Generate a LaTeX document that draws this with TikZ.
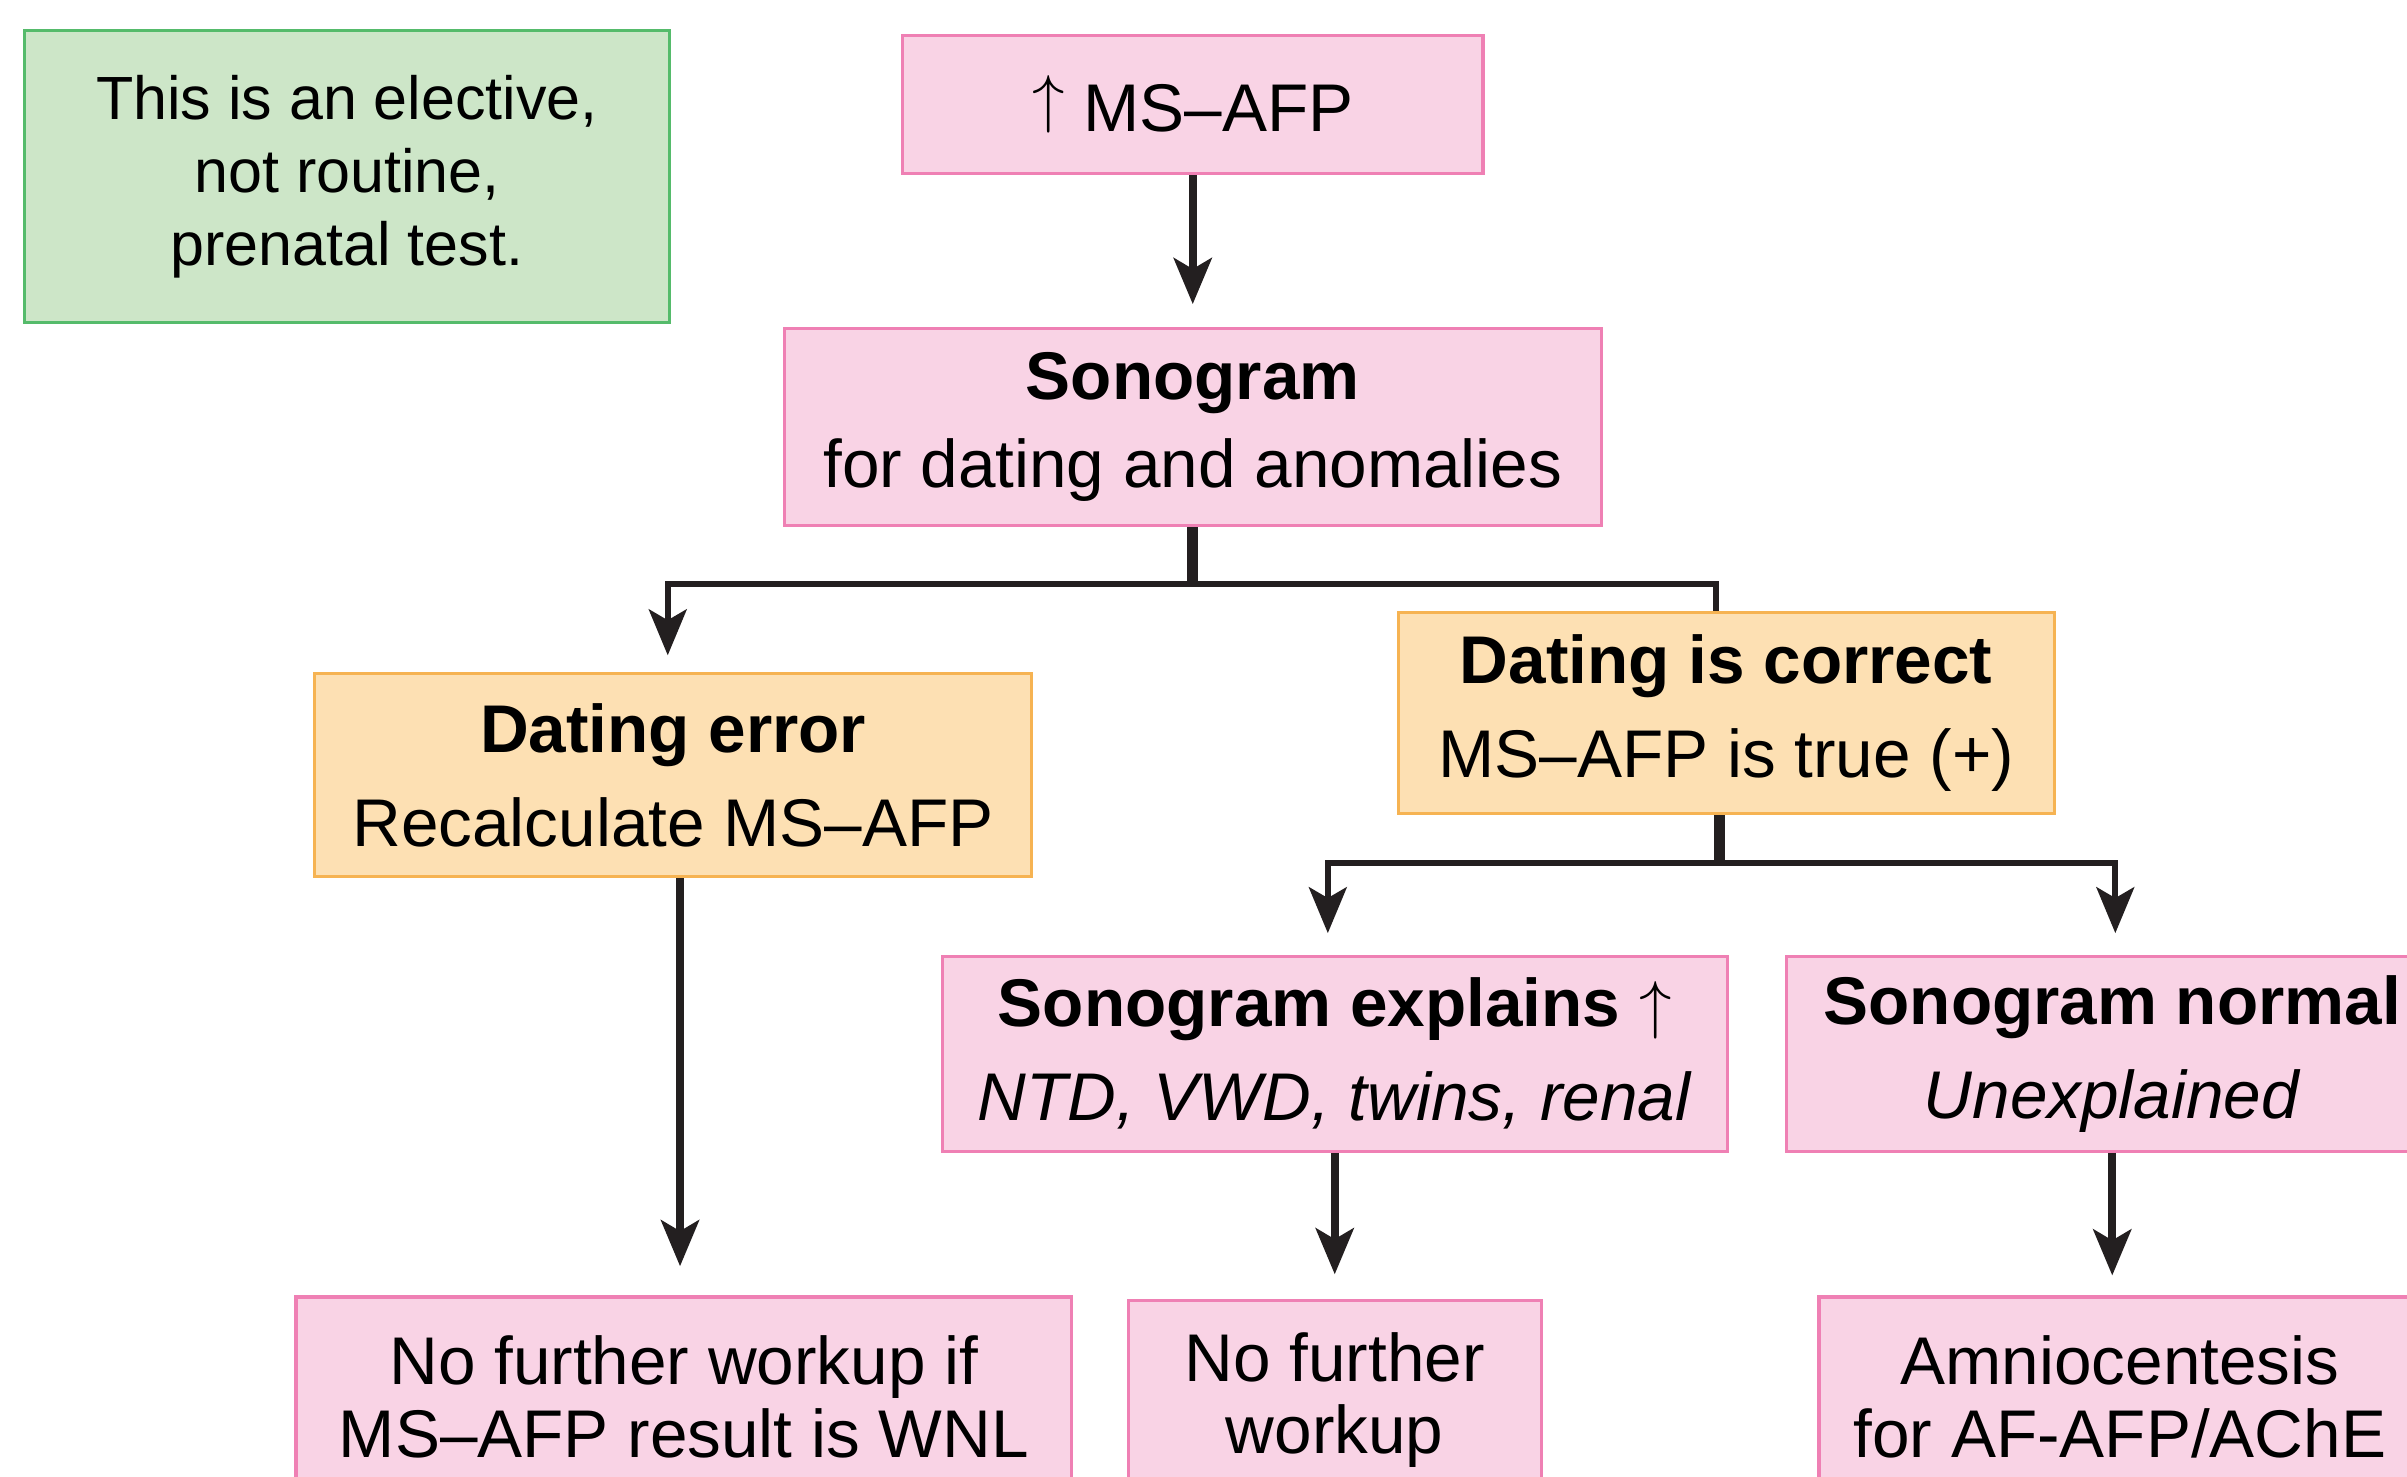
\documentclass[tikz,border=0pt]{standalone}
\usepackage{fontspec}
\setmainfont{Liberation Sans}
\usetikzlibrary{arrows.meta,positioning}

\definecolor{pinkfill}{HTML}{F9D3E5}
\definecolor{pinkline}{HTML}{EF80B4}
\definecolor{orangefill}{HTML}{FDE0B3}
\definecolor{orangeline}{HTML}{F6B352}
\definecolor{greenfill}{HTML}{CDE6C8}
\definecolor{greenline}{HTML}{55BB6B}
\definecolor{linecol}{HTML}{231F20}

\tikzset{
	box/.style={draw, line width=0.6pt, align=center, inner sep=0pt, font=\fontsize{12.5}{13.4}\selectfont},
	pinkbox/.style={box, fill=pinkfill, draw=pinkline},
	orangebox/.style={box, fill=orangefill, draw=orangeline},
	notebox/.style={box, fill=greenfill, draw=greenline, font=\fontsize{11.3}{13.5}\selectfont},
	headtip/.style={-{Stealth[length=8.5pt,width=7pt,inset=2pt]}},
	downarrow/.style={headtip, line width=1.5pt, draw=linecol},
	stemline/.style={line width=2pt, draw=linecol},
	splitline/.style={line width=1.1pt, draw=linecol},
}

\begin{document}
\begin{tikzpicture}[x=0.01cm, y=-0.01cm]
	\useasboundingbox (0,0) rectangle (1568,962);

	\node[notebox, minimum width=4.2cm, minimum height=1.9cm] (note) at (226,115)
		{This is an elective,\\not routine,\\prenatal test.};

	\node[pinkbox, minimum width=3.78cm, minimum height=0.9cm] (msafp) at (777,68)
		{\raisebox{2pt}{$\uparrow$} MS--AFP};
	\node[pinkbox, minimum width=5.32cm, minimum height=1.28cm, below=0.99cm of msafp] (sono)
		{\textbf{Sonogram}\\[3pt]for dating and anomalies};

	\node[orangebox, minimum width=4.67cm, minimum height=1.32cm] (err) at (438.5,505)
		{\textbf{Dating error}\\[4pt]Recalculate MS--AFP};
	\node[orangebox, minimum width=4.27cm, minimum height=1.31cm] (ok) at (1124.5,464.5)
		{\textbf{Dating is correct}\\[4pt]MS--AFP is true (+)};

	\node[pinkbox, minimum width=5.11cm, minimum height=1.27cm] (expl) at (869.5,686.5)
		{\textbf{Sonogram explains $\uparrow$}\\[4pt]\textit{NTD, VWD, twins, renal}};
	\node[pinkbox, minimum width=4.24cm, minimum height=1.27cm] (norm) at (1376,686.5)
		{\textbf{Sonogram normal}\\[4pt]\textit{Unexplained}};

	\node[pinkbox, minimum width=5.05cm, minimum height=1.3cm] (nowork) at (445.5,910)
		{No further workup if\\MS--AFP result is WNL};
	\node[pinkbox, minimum width=2.69cm, minimum height=1.3cm, below=0.95cm of expl] (nofurther)
		{No further\\workup};
	\node[pinkbox, minimum width=3.92cm, minimum height=1.3cm] (amnio) at (1381,910)
		{Amniocentesis\\for AF-AFP/AChE};

	% connectors
	\draw[downarrow, shorten >=0.15cm] (msafp) -- (sono);
	\draw[stemline] (sono.south) -- ++(0,37) coordinate (sj);
	\draw[splitline, headtip, shorten >=0.11cm] (sj) -| ([xshift=-0.035cm]err.north);
	\draw[splitline] (sj) -| ([xshift=-0.065cm]ok.north);

	\draw[downarrow, shorten >=0.19cm] ([xshift=0.045cm]err.south) -- ([xshift=0.045cm]err.south |- nowork.north);

	\draw[stemline] ([xshift=-0.045cm]ok.south) -- ++(0,31) coordinate (oj);
	\draw[splitline, headtip, shorten >=0.14cm] (oj) -| ([xshift=-0.045cm]expl.north);
	\draw[splitline, headtip, shorten >=0.14cm] (oj) -| ([xshift=0.02cm]norm.north);

	\draw[downarrow, shorten >=0.16cm] (expl) -- (nofurther);
	\draw[downarrow, shorten >=0.13cm] (norm.south) -- (norm.south |- amnio.north);
\end{tikzpicture}
\end{document}
